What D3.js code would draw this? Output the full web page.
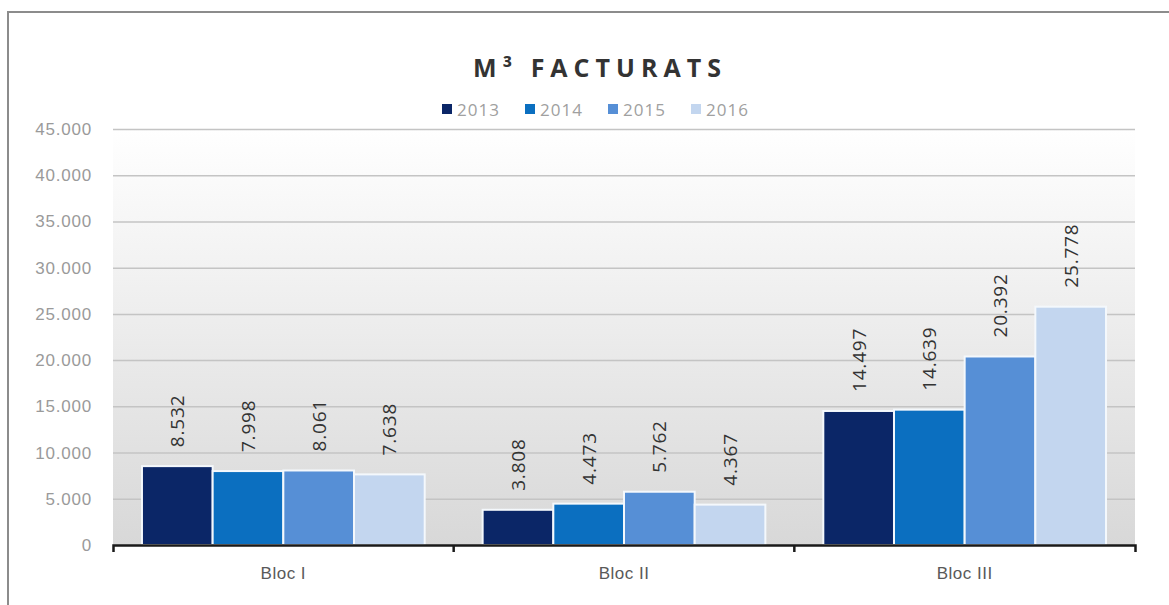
<!DOCTYPE html>
<html>
<head>
<meta charset="utf-8">
<script src="https://cdn.jsdelivr.net/npm/d3@7"></script>
<style>
  body { margin: 0; background: #fff; }
  svg { display: block; font-family: "Open Sans", sans-serif; }
</style>
</head>
<body>
<div id="canvas"></div>
<script>
// data
var blocs = ['Bloc I', 'Bloc II', 'Bloc III'];
var years = ['2013', '2014', '2015', '2016'];
var v2013 = [8532, 3808, 14497];
var v2014 = [7998, 4473, 14639];
var v2015 = [8061, 5762, 20392];
var v2016 = [7638, 4367, 25778];
var yTicks = [0, 5000, 10000, 15000, 20000, 25000, 30000, 35000, 40000, 45000];
var colors = ['#0b2667', '#0b6fc0', '#568fd6', '#c3d6ef'];

var series = [v2013, v2014, v2015, v2016];

var width = 1169, height = 605;

var svg = d3.select('#canvas').append('svg')
  .attr('width', width)
  .attr('height', height);

// background gradient of the plot area
var defs = svg.append('defs');
var grad = defs.append('linearGradient')
  .attr('id', 'bg').attr('x1', 0).attr('y1', 0).attr('x2', 0).attr('y2', 1);
grad.append('stop').attr('offset', '0%').attr('stop-color', '#ffffff');
grad.append('stop').attr('offset', '100%').attr('stop-color', '#d8d8d8');

// chart frame (only top and left are visible)
svg.append('path')
  .attr('d', 'M8,' + height + 'V12H' + width)
  .attr('fill', 'none')
  .attr('stroke', '#8c8c8c')
  .attr('stroke-width', 2);

var x0 = d3.scaleBand().domain(blocs).range([113, 1135]);
var x1 = d3.scaleBand().domain(years).range([0, x0.bandwidth()]).paddingOuter(0.41);
var y = d3.scaleLinear().domain([0, 45000]).range([545, 129]);

// plot area
svg.append('rect')
  .attr('x', x0.range()[0]).attr('y', y(45000))
  .attr('width', x0.range()[1] - x0.range()[0])
  .attr('height', y(0) - y(45000))
  .attr('fill', 'url(#bg)');

// gridlines
svg.append('g')
  .attr('transform', 'translate(' + x0.range()[0] + ',0)')
  .call(d3.axisLeft(y).tickValues(yTicks.slice(1)).tickSize(-(x0.range()[1] - x0.range()[0])).tickFormat(''))
  .call(g => g.select('.domain').remove())
  .selectAll('line').attr('stroke', '#c4c4c4').attr('stroke-width', 1.5);

// y tick labels
var fmt = d => d === 0 ? '0' : d3.format(',')(d).replace(/,/g, '.');
svg.append('g')
  .attr('transform', 'translate(92,0)')
  .call(d3.axisLeft(y).tickValues(yTicks).tickSize(0).tickPadding(0).tickFormat(fmt))
  .call(g => g.select('.domain').remove())
  .selectAll('text')
  .attr('fill', '#9a9a9a')
  .style('font-size', '17px')
  .style('letter-spacing', '0.8px');

// bars
var groups = svg.append('g').selectAll('g')
  .data(blocs)
  .enter().append('g')
  .attr('transform', d => 'translate(' + x0(d) + ',0)');

groups.selectAll('rect')
  .data((b, i) => years.map((yr, k) => ({ year: yr, k: k, value: series[k][i] })))
  .enter().append('rect')
  .attr('x', d => x1(d.year))
  .attr('y', d => y(d.value))
  .attr('width', x1.bandwidth())
  .attr('height', d => y(0) - y(d.value))
  .attr('fill', d => colors[d.k])
  .attr('stroke', '#f4f8fc')
  .attr('stroke-width', 2);

// value labels, rotated
groups.selectAll('text.val')
  .data((b, i) => years.map((yr, k) => ({ year: yr, k: k, value: series[k][i] })))
  .enter().append('text')
  .attr('class', 'val')
  .attr('transform', d => 'translate(' + (x1(d.year) + x1.bandwidth() / 2 + 7) + ',' + (y(d.value) - 19) + ') rotate(-90)')
  .attr('fill', '#333333')
  .style('font-size', '19px')
  .style('letter-spacing', '0.8px')
  .text(d => fmt(d.value));

// x axis
var xAxis = svg.append('g')
  .attr('transform', 'translate(0,' + y(0) + ')')
  .call(d3.axisBottom(x0).tickSize(0).tickSizeOuter(7).tickPadding(22));
xAxis.select('.domain').attr('stroke', '#1a1a1a').attr('stroke-width', 2.5);
xAxis.selectAll('text').attr('fill', '#595959').style('font-size', '17px').style('letter-spacing', '0.5px');
xAxis.selectAll('line.sep')
  .data(blocs.slice(1))
  .enter().append('line')
  .attr('class', 'sep')
  .attr('x1', d => x0(d)).attr('x2', d => x0(d))
  .attr('y1', 0).attr('y2', 7)
  .attr('stroke', '#1a1a1a').attr('stroke-width', 2.5);

// title
svg.append('text')
  .attr('x', 600).attr('y', 77)
  .attr('text-anchor', 'middle')
  .attr('fill', '#333333')
  .style('font-size', '25px')
  .style('font-weight', 'bold')
  .style('letter-spacing', '6px')
  .text('M³ FACTURATS');

// legend
var legend = svg.append('g').selectAll('g')
  .data(years)
  .enter().append('g')
  .attr('transform', (d, i) => 'translate(' + (442 + i * 83) + ',104)');
legend.append('rect')
  .attr('width', 10).attr('height', 10)
  .attr('fill', (d, i) => colors[i]);
legend.append('text')
  .attr('x', 15).attr('y', 12)
  .attr('fill', '#a0a0a0')
  .style('font-size', '17px')
  .style('letter-spacing', '1px')
  .text(d => d);
</script>
</body>
</html>
